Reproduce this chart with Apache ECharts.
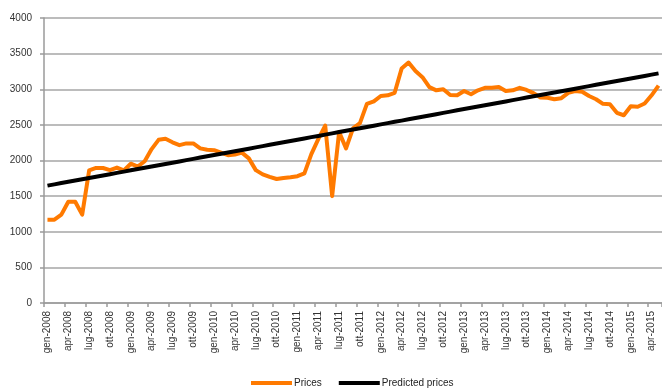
<!DOCTYPE html>
<html>
<head>
<meta charset="utf-8">
<script src="https://cdn.jsdelivr.net/npm/echarts@6/dist/echarts.min.js"></script>
<style>
html,body{margin:0;padding:0;background:#fff;}
#chart{width:662px;height:390px;}
</style>
</head>
<body>
<div id="chart"></div>
<script>
var monthNames = ['gen','feb','mar','apr','mag','giu','lug','ago','set','ott','nov','dic'];
var years = [2008,2009,2010,2011,2012,2013,2014,2015];
var lastYearMonths = 5; // gen-2015 .. mag-2015

var categories = [];
years.forEach(function(y){
  var n = (y === 2015) ? lastYearMonths : 12;
  for (var m = 0; m < n; m++) categories.push(monthNames[m] + '-' + y);
});

var prices = [
  1170,1170,1240,1420,1420,1240,1860,1895,1895,1865,1900,1860,
  1955,1915,1990,2160,2290,2305,2255,2215,2240,2240,2170,2150,
  2145,2110,2075,2085,2110,2030,1865,1805,1770,1740,1755,1765,
  1780,1820,2090,2300,2490,1500,2400,2170,2450,2525,2795,2830,
  2905,2915,2950,3290,3375,3255,3170,3030,2985,3000,2920,2915,
  2975,2930,2985,3020,3020,3030,2975,2985,3020,2990,2945,2885,
  2880,2860,2875,2950,2975,2965,2905,2860,2795,2790,2670,2635,
  2760,2755,2800,2915,3050
];

var predicted = [
  1647,1665,1683,1701,1719,1737,1754,1772,1790,1808,1826,1844,
  1862,1880,1898,1916,1934,1951,1969,1987,2005,2023,2041,2059,
  2077,2095,2113,2131,2148,2166,2184,2202,2220,2238,2256,2274,
  2292,2310,2328,2345,2363,2381,2399,2417,2435,2453,2471,2489,
  2507,2525,2543,2560,2578,2596,2614,2632,2650,2668,2686,2704,
  2722,2740,2757,2775,2793,2811,2829,2847,2865,2883,2901,2919,
  2937,2954,2972,2990,3008,3026,3044,3062,3080,3098,3116,3134,
  3151,3169,3187,3205,3223
];

var seriesNames = ['Prices','Predicted prices'];
var yTicks = {min:0, max:4000, interval:500};

var chart = echarts.init(document.getElementById('chart'), null, {renderer:'canvas'});
var font = 'Liberation Sans, Arial, sans-serif';
chart.setOption({
  animation: false,
  backgroundColor: '#ffffff',
  grid: {left: 44, top: 18, right: -3, bottom: 87, containLabel: false},
  legend: {
    data: seriesNames.map(function(n){ return {name: n, icon: 'rect'}; }),
    left: 246,
    top: 373,
    itemWidth: 41,
    itemHeight: 4,
    itemGap: 17,
    textStyle: {fontFamily: font, fontSize: 10, color: '#222', padding: [0,0,0,-3]}
  },
  xAxis: {
    type: 'category',
    data: categories,
    boundaryGap: true,
    axisLine: {show: true, lineStyle: {color: '#9a9a9a', width: 1.5}},
    axisTick: {show: true, interval: 2, length: 4, lineStyle: {color: '#9a9a9a', width: 1.5}},
    axisLabel: {interval: 2, rotate: 90, margin: 8, fontFamily: font, fontSize: 10, color: '#333'},
    splitLine: {show: false}
  },
  yAxis: {
    type: 'value',
    min: yTicks.min,
    max: yTicks.max,
    interval: yTicks.interval,
    axisLine: {show: true, lineStyle: {color: '#9a9a9a', width: 1.5}},
    axisTick: {show: true, length: 4, lineStyle: {color: '#9a9a9a', width: 1.5}},
    axisLabel: {margin: 12, fontFamily: font, fontSize: 10, color: '#333',
      formatter: function(v){ return String(v); }},
    splitLine: {show: true, lineStyle: {color: '#a6a6a6', width: 1.5}}
  },
  series: [
    {
      name: seriesNames[0],
      type: 'line',
      data: prices,
      symbol: 'none',
      itemStyle: {color: '#ff7a00'},
      lineStyle: {color: '#ff7a00', width: 4, join: 'round'}
    },
    {
      name: seriesNames[1],
      type: 'line',
      data: predicted,
      symbol: 'none',
      itemStyle: {color: '#000000'},
      lineStyle: {color: '#000000', width: 4, join: 'round'}
    }
  ]
});
</script>
</body>
</html>
